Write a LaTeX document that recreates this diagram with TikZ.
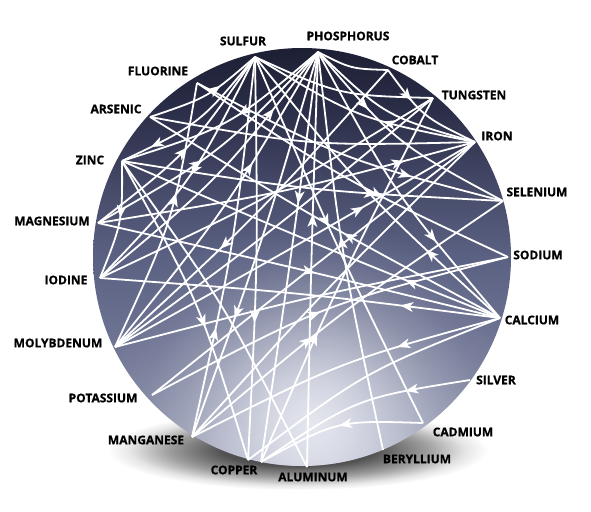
\documentclass[tikz,border=0pt]{standalone}
\usepackage{fontspec}
\setmainfont{Open Sans}
\newfontfamily\labfont{Open Sans}[BoldFeatures={FakeBold=0.7}]
\usetikzlibrary{arrows.meta,decorations.markings,calc,fadings}
\definecolor{b0}{HTML}{9399B1}
\definecolor{b1}{HTML}{7E84A0}
\definecolor{b2}{HTML}{6B7190}
\definecolor{b3}{HTML}{5B6182}
\definecolor{b4}{HTML}{4A4F6E}
\definecolor{b5}{HTML}{383C59}
\definecolor{b6}{HTML}{282B44}
\definecolor{b7}{HTML}{1D2034}
\definecolor{glowc}{HTML}{E6E8F0}
\pgfdeclareverticalshading{ballv}{100bp}{color(0bp)=(b0); color(25bp)=(b0); color(32.9bp)=(b1); color(41.3bp)=(b2); color(50bp)=(b3); color(56.8bp)=(b4); color(62.8bp)=(b5); color(68.8bp)=(b6); color(75bp)=(b7); color(100bp)=(b7)}
\pgfdeclareradialshading{shadowsh}{\pgfpointorigin}{color(0bp)=(black!80); color(10bp)=(black!68); color(17bp)=(black!38); color(22bp)=(black!10); color(25bp)=(white); color(50bp)=(white)}
\pgfdeclareradialshading{glowsh}{\pgfpointorigin}{color(0bp)=(white); color(5bp)=(white!82!black); color(10bp)=(white!55!black); color(15bp)=(white!28!black); color(20bp)=(white!8!black); color(25bp)=(black); color(50bp)=(black)}
\pgfdeclarefading{glow}{\pgfuseshading{glowsh}}
\tikzset{
  ln/.style={white, line width=1.8pt},
  arr/.style={postaction={decorate}, decoration={markings, mark=at position #1 with {\fill[white] (4,0) -- (-9,5) -- (-5.5,0) -- (-9,-5) -- cycle;}}},
  lab/.style={font=\labfont\fontsize{12}{12}\selectfont\bfseries, text=black, inner sep=0pt, anchor=center},
}
\newcommand\lnk[4][]{\draw[ln,#1] (#2) .. controls ($(#2)!0.5!(#3)!#4!(ctr)$) .. (#3);}
\begin{document}
\begin{tikzpicture}[x=1pt,y=-1pt]
\useasboundingbox (0,0) rectangle (591,511);
\fill[white] (0,0) rectangle (591,511);
% shadow
\shade[shading=shadowsh] (298,450) ellipse [x radius=190, y radius=40];
% sphere
\coordinate (ctr) at (302,257);
\shade[shading=ballv] (ctr) circle (209);
\begin{scope}
  \clip (ctr) circle (209);
  \fill[glowc, path fading=glow] (312,425) circle (210);
\end{scope}
% points
\coordinate (S) at (255,57);
\coordinate (P) at (318,52);
\coordinate (Co) at (388,70);
\coordinate (W) at (433,98);
\coordinate (Fe) at (475,142);
\coordinate (Se) at (503,201);
\coordinate (Na) at (508,257);
\coordinate (Ca) at (500,318);
\coordinate (Ag) at (470,380);
\coordinate (Cd) at (423,423);
\coordinate (Be) at (383,450);
\coordinate (Al) at (307,467);
\coordinate (Cu) at (248,460);
\coordinate (Cub) at (261,462);
\coordinate (Mn) at (192,437);
\coordinate (K) at (152,395);
\coordinate (Mo) at (115,347);
\coordinate (I) at (100,278);
\coordinate (Mg) at (98,223);
\coordinate (Zn) at (122,161);
\coordinate (As) at (150,117);
\coordinate (F) at (197,83);
% links
\lnk[arr=.43]{P}{Zn}{.13}
\lnk[arr=.79]{S}{Zn}{.1}
\lnk[arr=.6]{As}{S}{.06}
\lnk[arr=.42]{Mg}{P}{.13}
\lnk[arr=.49]{Mg}{S}{.1}
\lnk[arr=.48]{S}{I}{.13}
\lnk[arr=.44]{Zn}{I}{.06}
\lnk[arr=.76]{I}{P}{.13}
\lnk[arr=.63]{Mo}{P}{.13}
\lnk[arr=.58]{Mo}{F}{.12}
\lnk[arr=.28]{Mn}{S}{.13}
\lnk[arr=.68]{P}{Mn}{.13}
\lnk[arr=.65]{S}{Cu}{.13}
\lnk[arr=.56]{Zn}{Cu}{.13}
\lnk{Al}{Zn}{.13}
\lnk[arr=.36]{P}{Cub}{.13}
\lnk[arr=.6]{Al}{P}{.13}
\lnk[arr=.45]{S}{Cd}{.13}
\lnk[arr=.53]{Be}{P}{.2}
\lnk[arr=.38]{Fe}{S}{.12}
\lnk[arr=.3]{P}{Se}{.13}
\lnk[arr=.3]{Co}{Fe}{.07}
\lnk[arr=.8]{Mg}{Fe}{.13}
\lnk[arr=.7]{F}{Se}{.15}
\lnk[arr=.66]{Zn}{Se}{.13}
\lnk[arr=.6]{F}{Na}{.13}
\lnk[arr=.68]{P}{Ca}{.13}
\lnk[arr=.27]{Ca}{S}{.13}
\lnk[arr=.43]{Ca}{As}{.13}
\lnk[arr=.68]{Mo}{Fe}{.13}
\lnk[arr=.53]{Mg}{Ca}{.13}
\lnk[arr=.24]{Ca}{Zn}{.13}
\lnk[arr=.24]{Ca}{I}{.13}
\lnk[arr=.31]{Ca}{Mn}{.13}
\lnk[arr=.27]{Ag}{Cub}{.14}
\lnk[arr=.47]{Cd}{Cub}{.12}
\lnk[arr=.34]{Cub}{W}{.13}
\lnk[arr=.39]{Mn}{Se}{.13}
\lnk{Mn}{Fe}{.13}
\lnk[arr=.48]{K}{Na}{.3}
\lnk{Mo}{Na}{.13}
\lnk{W}{Mo}{.13}
\lnk[arr=.62]{Co}{Mo}{.13}
\lnk{Fe}{K}{.13}
\lnk{Cu}{Ca}{.13}
\lnk{P}{Co}{.04}
\lnk{P}{Fe}{.12}
\lnk{S}{W}{.1}
\lnk{As}{Fe}{.13}
\lnk{W}{I}{.13}
% labels
\node[lab] (lS) at (243,41) {SULFUR};
\node[lab] (lP) at (348,36) {PHOSPHORUS};
\node[lab] (lCo) at (415,60) {COBALT};
\node[lab] (lW) at (474,95) {TUNGSTEN};
\node[lab] (lFe) at (497,136) {IRON};
\node[lab] (lSe) at (537,192) {SELENIUM};
\node[lab] (lNa) at (538,255) {SODIUM};
\node[lab] (lCa) at (532,320) {CALCIUM};
\node[lab] (lAg) at (496,380) {SILVER};
\node[lab] (lCd) at (463,432) {CADMIUM};
\node[lab] (lBe) at (417,459) {BERYLLIUM};
\node[lab] (lAl) at (313,477) {ALUMINUM};
\node[lab] (lCu) at (234,470) {COPPER};
\node[lab] (lMn) at (146,440) {MANGANESE};
\node[lab] (lK) at (103,398) {POTASSIUM};
\node[lab] (lMo) at (58,343) {MOLYBDENUM};
\node[lab] (lI) at (66,280) {IODINE};
\node[lab] (lMg) at (52,221) {MAGNESIUM};
\node[lab] (lZn) at (90,160) {ZINC};
\node[lab] (lAs) at (116,109) {ARSENIC};
\node[lab] (lF) at (158,71) {FLUORINE};
\end{tikzpicture}
\end{document}
